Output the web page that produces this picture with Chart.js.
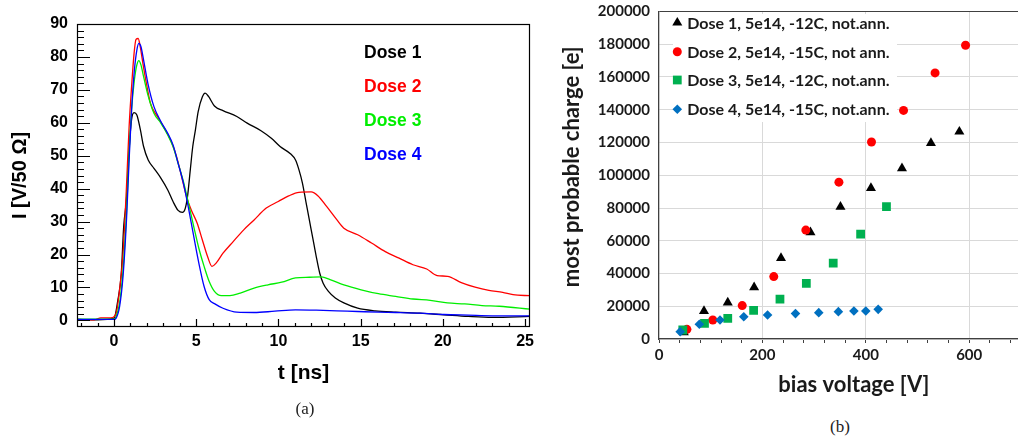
<!DOCTYPE html>
<html>
<head>
<meta charset="utf-8">
<script src="https://cdn.jsdelivr.net/npm/chart.js@4.4.1/dist/chart.umd.min.js"></script>
<style>
    html, body { margin: 0; padding: 0; background: #fff; overflow: hidden; width: 1018px; height: 442px; position: relative; }
    .panel { position: absolute; top: 0; height: 400px; }
    #panelA { left: 0; width: 545px; }
    #panelB { left: 545px; width: 510px; }
    .caption { position: absolute; transform: translate(-50%, -50%); font-family: "Liberation Serif", serif; font-size: 17px; color: #222; }
</style>
</head>
<body>
<div class="panel" id="panelA"><canvas id="pulseChart"></canvas></div>
<div class="panel" id="panelB"><canvas id="chargeChart"></canvas></div>
<div class="caption" style="left:305px;top:409px">(a)</div>
<div class="caption" style="left:840px;top:427px">(b)</div>

<script>
// ===== (a) current pulses, [t (ns), I (V/50 Ohm)] =====
const dose1Pulse = [[-2.25,0.3],[-1,0.2],[0,0.7],[0.23,6],[0.44,14],[0.59,28.5],[0.76,37],[0.92,52],[1.07,61],[1.22,63.1],
    [1.39,62.4],[1.6,58],[1.8,52.8],[2.08,48.7],[2.43,46.2],[2.85,43.2],[3.27,39.6],[3.59,36.1],[3.9,33.4],[4.16,32.8],
    [4.32,33.8],[4.47,37.6],[4.64,45.7],[4.79,52.8],[4.95,57.8],[5.12,63.4],[5.37,67.8],[5.54,69],[5.75,68],[6.11,65.1],
    [6.63,63.7],[7.47,61.9],[8.1,59.9],[8.94,57.6],[9.57,55.3],[10.1,52.8],[10.73,50.6],[11.04,48.7],[11.25,45.7],[11.46,41.7],
    [11.67,36.1],[11.88,30.5],[12.09,25],[12.3,19.4],[12.51,14.4],[12.72,11.3],[13.04,8.8],[13.46,6.8],[13.98,5.3],[14.82,3.7],
    [15.87,2.9],[17.13,2.5],[18.6,2.2],[20.07,1.7],[21.54,1.2],[23,0.9],[25.3,1.2]];
const dose2Pulse = [[-2.25,0.3],[-1.2,0.2],[-0.8,0.8],[-0.2,0.8],[0.13,2.2],[0.34,9.3],[0.55,20.4],[0.76,40.7],[0.92,58.9],[1.07,71],
    [1.22,81],[1.34,85.3],[1.47,85.6],[1.6,83],[1.76,78],[1.97,72],[2.22,65.9],[2.64,61.9],[3.06,58.4],[3.48,54.3],
    [3.8,49.8],[4.11,43.7],[4.43,37.2],[4.74,33.1],[5.06,29.5],[5.37,24.5],[5.69,19.4],[5.96,16.4],[6.21,17.4],[6.63,20.4],
    [7.26,24],[7.89,27.5],[8.52,30.5],[9.26,34.1],[9.99,36.1],[10.62,37.8],[11.25,38.9],[11.99,39],[12.41,37.8],[12.93,34.6],
    [13.56,30.5],[13.98,28],[14.82,26],[15.66,23.5],[16.5,20.9],[17.34,18.9],[18.18,16.9],[19.02,15.6],[19.65,13.6],[20.28,13.4],
    [21.12,11.5],[21.96,10.1],[22.8,9.1],[23.64,8.5],[24.27,7.8],[25.3,7.5]];
const dose3Pulse = [[-2.25,0.4],[0,0.4],[0.13,1.2],[0.34,5.3],[0.55,15.4],[0.76,32.6],[0.92,50.8],[1.07,64],[1.24,73],[1.39,77.6],
    [1.51,78.9],[1.64,77.6],[1.8,74],[2.06,68.5],[2.43,62.9],[2.85,59.9],[3.27,56.3],[3.59,52.8],[3.9,47.7],[4.22,42.2],
    [4.53,35.6],[4.85,28.5],[5.16,21.9],[5.48,16.4],[5.79,11.8],[6.11,8.8],[6.53,7.5],[7.05,7.5],[7.68,8.3],[8.52,9.8],
    [9.36,10.8],[10.2,11.6],[11.04,12.9],[11.88,13.1],[12.62,13.2],[13.14,12.4],[13.98,10.8],[15.03,9.3],[16.08,8.1],[17.13,7.3],
    [18.18,6.5],[19.23,6.1],[20.28,5.3],[21.33,5],[22.38,4.5],[23.43,4.3],[25.3,3.4]];
const dose4Pulse = [[-2.25,0.3],[0,0.3],[0.13,0.7],[0.34,4.2],[0.55,13.4],[0.76,30.5],[0.92,48.7],[1.07,64],[1.24,76],[1.39,82.1],
    [1.51,84.1],[1.64,83.1],[1.8,79],[2.06,72],[2.43,64.9],[2.85,60.4],[3.27,56.8],[3.59,53.3],[3.9,47.7],[4.22,41.7],
    [4.53,34.1],[4.85,25.5],[5.16,17.4],[5.48,10.3],[5.79,6.3],[6.11,5.1],[6.63,3.7],[7.47,2.5],[8.52,2.4],[9.78,2.8],
    [11.04,3.2],[12.3,3.1],[13.56,2.9],[14.82,2.7],[16.08,2.5],[17.13,2.4],[18.6,2.2],[20.07,1.8],[21.54,1.6],[23,1.4],[25.3,1.4]];

const pulseNames = ['Dose 1', 'Dose 2', 'Dose 3', 'Dose 4'];
const pulseColors = ['#000000', '#ff0000', '#00ee00', '#0000ff'];
const timeTicks = [0, 5, 10, 15, 20, 25];
const currentTicks = [0, 10, 20, 30, 40, 50, 60, 70, 80, 90];

// ===== (b) most probable charge vs bias =====
const dose1Bias = [48, 87, 133, 184, 236, 293, 351, 410, 470, 526, 581];
const dose1Charge = [4000, 17100, 22200, 31600, 49400, 65200, 80700, 92200, 104200, 119700, 126600];
const dose2Bias = [54, 104, 161, 222, 284, 348, 411, 473, 534, 593];
const dose2Charge = [5900, 11600, 20400, 38100, 66500, 95800, 120300, 139600, 162500, 179400];
const dose3Bias = [46, 88, 133, 183, 234, 285, 337, 390, 440];
const dose3Charge = [5500, 9600, 12600, 17500, 24300, 34000, 46300, 64000, 80900];
const dose4Bias = [41, 78, 118, 164, 210, 264, 309, 347, 377, 400, 424];
const dose4Charge = [4500, 9000, 11600, 13600, 14700, 15500, 16100, 16700, 17100, 17100, 18100];

const chargeNames = ['Dose 1, 5e14, -12C, not.ann.', 'Dose 2, 5e14, -15C, not ann.',
    'Dose 3, 5e14, -12C, not.ann.', 'Dose 4, 5e14, -15C, not.ann.'];
const biasLabels = [0, 200, 400, 600];
const chargeTicks = [0, 20000, 40000, 60000, 80000, 100000, 120000, 140000, 160000, 180000, 200000];

const helv = '"Liberation Sans", Arial, sans-serif';
const calib = 'Lato, "Open Sans", sans-serif';

// keep the plot area where the layout padding puts it (no room reserved for end labels)
const noEdgePad = s => { s.paddingTop = 0; s.paddingBottom = 0; s.paddingLeft = 0; s.paddingRight = 0; };

// ROOT-style frame: full box, ticks pointing inwards, plain coloured labels
const rootFrame = {
    id: 'rootFrame',
    afterDatasetsDraw(chart) {
        const { ctx, chartArea: a, scales: { x, y } } = chart;
        ctx.save();
        ctx.strokeStyle = '#000';
        ctx.lineWidth = 1.2;
        ctx.strokeRect(a.left + 0.5, a.top + 0.5, a.width - 1, a.height - 1);
        ctx.beginPath();
        for (let t = Math.ceil(x.min); t <= x.max; t++) {
            const px = Math.round(x.getPixelForValue(t)) + 0.5;
            const len = t % 5 === 0 ? 8 : 4;
            ctx.moveTo(px, a.bottom);
            ctx.lineTo(px, a.bottom - len);
        }
        for (let v = 0; v <= y.max; v += 2) {
            const py = Math.round(y.getPixelForValue(v)) + 0.5;
            const len = v % 10 === 0 ? 13 : 7;
            ctx.moveTo(a.left, py);
            ctx.lineTo(a.left + len, py);
        }
        ctx.stroke();

        ctx.font = 'bold 17.5px ' + helv;
        ctx.textBaseline = 'middle';
        const rows = [52.7, 87.4, 121, 155];
        pulseNames.forEach((name, i) => {
            ctx.fillStyle = pulseColors[i];
            ctx.fillText(name, 364, rows[i]);
        });
        ctx.restore();
    }
};

const pulseSets = [dose1Pulse, dose2Pulse, dose3Pulse, dose4Pulse];
new Chart(document.getElementById('pulseChart'), {
    type: 'scatter',
    data: {
        datasets: pulseSets.map((pts, i) => ({
            label: pulseNames[i],
            data: pts.map(p => ({ x: p[0], y: p[1] })),
            showLine: true,
            borderColor: pulseColors[i],
            borderWidth: 1.3,
            pointRadius: 0,
            cubicInterpolationMode: 'monotone',
            order: 4 - i
        }))
    },
    options: {
        responsive: true, maintainAspectRatio: false, animation: false,
        layout: { padding: { left: 0, top: 24, right: 15, bottom: 0 } },
        plugins: { legend: { display: false }, tooltip: { enabled: false } },
        scales: {
            x: {
                type: 'linear', min: -2.25, max: 25.3,
                afterBuildTicks: s => { s.ticks = timeTicks.map(v => ({ value: v })); },
                afterFit: s => { s.height = 73; noEdgePad(s); },
                grid: { display: false, drawTicks: false },
                border: { display: false },
                ticks: { padding: 5, maxRotation: 0, color: '#000', font: { family: helv, size: 16, weight: 'bold' } },
                title: { display: true, text: 't [ns]', color: '#000', padding: { top: 0, bottom: 14 },
                    font: { family: helv, size: 21, weight: 'bold' } }
            },
            y: {
                min: -2, max: 90,
                afterBuildTicks: s => { s.ticks = currentTicks.map(v => ({ value: v })); },
                afterFit: s => { s.width = 77; noEdgePad(s); },
                grid: { display: false, drawTicks: false },
                border: { display: false },
                ticks: { padding: 9, color: '#000', font: { family: helv, size: 16, weight: 'bold' } },
                title: { display: true, text: 'I [V/50 Ω]', color: '#000', padding: { top: 8, bottom: 0 },
                    font: { family: helv, size: 20, weight: 'bold' } }
            }
        }
    },
    plugins: [rootFrame]
});

// legend boxed in the upper-left corner of the plot area, plus the vertical axis title
const chargeLegend = {
    id: 'chargeLegend',
    afterDatasetsDraw(chart) {
        const ctx = chart.ctx;
        const rows = [22.7, 51.7, 80, 109.3];
        ctx.save();
        ctx.fillStyle = '#fff';
        ctx.fillRect(128, 14, 224, 108);
        ctx.font = 'bold 16px ' + calib;
        ctx.textBaseline = 'middle';
        chart.data.datasets.forEach((ds, i) => {
            ctx.fillStyle = ds.backgroundColor;
            ctx.strokeStyle = ds.backgroundColor;
            Chart.helpers.drawPoint(ctx, { pointStyle: ds.pointStyle, radius: ds.pointRadius, rotation: 0, borderWidth: 0 }, 132.3, rows[i]);
            ctx.fillStyle = '#1a1a1a';
            ctx.fillText(ds.label, 142.3, rows[i] + 1);
        });

        ctx.translate(26.7, 166.7);
        ctx.rotate(-Math.PI / 2);
        ctx.font = 'bold 22px ' + calib;
        ctx.textAlign = 'center';
        ctx.fillStyle = '#1a1a1a';
        ctx.fillText('most probable charge [e]', 0, 0);
        ctx.restore();
    }
};

const chargeSets = [
    { bias: dose1Bias, charge: dose1Charge, color: '#000000', style: 'triangle', r: 5.8 },
    { bias: dose2Bias, charge: dose2Charge, color: '#ff0000', style: 'circle', r: 4.5 },
    { bias: dose3Bias, charge: dose3Charge, color: '#00b050', style: 'rect', r: 6.2 },
    { bias: dose4Bias, charge: dose4Charge, color: '#0070c0', style: 'rectRot', r: 4.8 }
];
const minorBias = [];
for (let v = 0; v <= 740; v += 40) minorBias.push(v);

new Chart(document.getElementById('chargeChart'), {
    type: 'scatter',
    data: {
        datasets: chargeSets.map((s, i) => ({
            label: chargeNames[i],
            data: s.bias.map((v, k) => ({ x: v, y: s.charge[k] })),
            backgroundColor: s.color,
            borderColor: s.color,
            borderWidth: 0,
            pointStyle: s.style,
            pointRadius: s.r,
            order: 4 - i
        }))
    },
    options: {
        responsive: true, maintainAspectRatio: false, animation: false,
        layout: { padding: { left: 0, top: 11.5, right: 0, bottom: 0 } },
        plugins: { legend: { display: false }, tooltip: { enabled: false } },
        scales: {
            x: {
                type: 'linear', min: 0, max: 754,
                afterBuildTicks: s => { s.ticks = minorBias.map(v => ({ value: v })); },
                afterFit: s => { s.height = 61; noEdgePad(s); },
                grid: {
                    color: c => (c.tick && c.tick.value > 0 && biasLabels.includes(c.tick.value)) ? '#d9d9d9' : 'rgba(0,0,0,0)',
                    tickColor: '#404040', tickLength: 4, drawTicks: true
                },
                border: { color: '#404040', width: 1.3 },
                ticks: {
                    autoSkip: false, maxRotation: 0, padding: 3, color: '#1a1a1a',
                    font: { family: calib, size: 15, weight: 'bold' },
                    callback: v => biasLabels.includes(v) ? String(v) : ''
                },
                title: { display: true, text: 'bias voltage [V]', color: '#1a1a1a', padding: { top: 0, bottom: 2 },
                    font: { family: calib, size: 22, weight: 'bold' } }
            },
            y: {
                min: 0, max: 200000,
                afterBuildTicks: s => { s.ticks = chargeTicks.map(v => ({ value: v })); },
                afterFit: s => { s.width = 114; noEdgePad(s); },
                grid: { color: c => (c.tick && c.tick.value === 200000) ? '#404040' : '#d9d9d9', drawTicks: false },
                border: { color: '#404040', width: 1.3 },
                ticks: { padding: 9, color: '#1a1a1a', font: { family: calib, size: 15, weight: 'bold' },
                    callback: v => String(v) }
            }
        }
    },
    plugins: [chargeLegend]
});
</script>
</body>
</html>
